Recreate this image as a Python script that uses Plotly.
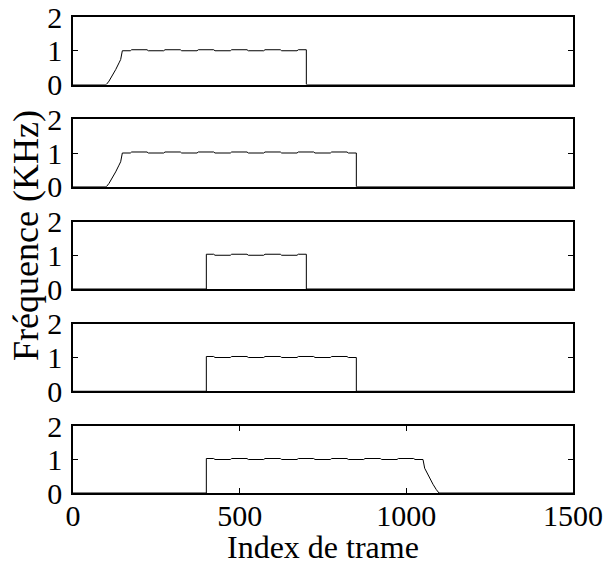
import numpy as np
import plotly.graph_objects as go

# Frame axis and track layout
x_ticks = [0, 500, 1000, 1500]
y_ticks = [0, 1, 2]

# Gliding onset / offset of the tone (frame, kHz)
onset_frames = [100, 108, 118, 128, 138, 143, 148]
onset_khz = [0.0, 0.10, 0.26, 0.44, 0.64, 0.74, 1.0]
offset_frames = [1050, 1055, 1060, 1070, 1080, 1090, 1098]
offset_khz = [1.0, 0.74, 0.64, 0.44, 0.26, 0.10, 0.0]

# Estimated pitch over the steady part (small periodic ripple around 1 kHz)
ripple_frames = [148, 172, 176, 222, 226, 272, 276, 322, 326, 372, 376, 422,
                 426, 472, 476, 522, 526, 572, 576, 622, 626, 672, 676, 722,
                 726, 772, 776, 822, 826, 872, 876, 922, 926, 972, 976, 1022,
                 1026, 1050]
ripple_khz = [1.0, 1.0, 1.03, 1.03, 1.0, 1.0, 1.03, 1.03, 1.0, 1.0, 1.03, 1.03,
              1.0, 1.0, 1.03, 1.03, 1.0, 1.0, 1.03, 1.03, 1.0, 1.0, 1.03, 1.03,
              1.0, 1.0, 1.03, 1.03, 1.0, 1.0, 1.03, 1.03, 1.0, 1.0, 1.03, 1.03,
              1.0, 1.0]

# Start / end of the tone in each track ("glide" = gradual onset or offset)
track_starts = ["glide", "glide", 400, 400, 400]
track_ends = [700, 850, 700, 850, "glide"]


def build_track(start, end):
    xs, ys = [0], [0.0]
    if start == "glide":
        xs += onset_frames
        ys += onset_khz
        s = onset_frames[-1]
    else:
        xs += [start, start]
        ys += [0.0, float(np.interp(start, ripple_frames, ripple_khz))]
        s = start
    e = offset_frames[0] if end == "glide" else end
    for f, v in zip(ripple_frames, ripple_khz):
        if s < f < e:
            xs.append(f)
            ys.append(v)
    if end == "glide":
        xs += offset_frames
        ys += offset_khz
    else:
        xs += [end, end]
        ys += [float(np.interp(end, ripple_frames, ripple_khz)), 0.0]
    xs.append(1500)
    ys.append(0.0)
    return xs, ys


W, H = 607, 565
m_l, m_r, m_t, m_b = 73, 34, 17, 72
plot_w = W - m_l - m_r
plot_h = H - m_t - m_b
panel_h = 67.5
panel_step = 102.25

fig = go.Figure()
font_family = "Liberation Serif, Times New Roman, Times, serif"
tick_font = dict(family=font_family, size=30, color="black")

n = len(track_starts)
layout = {}
for i in range(n):
    xs, ys = build_track(track_starts[i], track_ends[i])
    suffix = "" if i == 0 else str(i + 1)
    fig.add_trace(go.Scatter(
        x=xs, y=ys, mode="lines",
        line=dict(color="black", width=1),
        xaxis="x" + suffix, yaxis="y" + suffix,
        showlegend=False, hoverinfo="skip",
    ))
    top = i * panel_step
    bottom = min(top + panel_h, plot_h)
    dom = [max(0.0, 1 - bottom / plot_h), min(1.0, 1 - top / plot_h)]
    last = i == n - 1
    layout["xaxis" + suffix] = dict(
        domain=[0, 1], range=[0, 1500], anchor="y" + suffix,
        showline=True, linecolor="black", linewidth=1.5,
        mirror="ticks" if last else True,
        showgrid=False, zeroline=False, automargin=False,
        tickvals=x_ticks if last else [],
        ticks="inside" if last else "", ticklen=5, tickcolor="black", tickwidth=1,
        showticklabels=last, tickfont=tick_font, ticklabelstandoff=-5,
    )
    layout["yaxis" + suffix] = dict(
        domain=dom, range=[0, 2], anchor="x" + suffix,
        showline=True, linecolor="black", linewidth=1.5, mirror="ticks",
        showgrid=False, zeroline=False, automargin=False,
        tickvals=y_ticks, ticks="inside", ticklen=5, tickcolor="black", tickwidth=1,
        tickfont=tick_font, ticklabelstandoff=3,
    )

fig.update_layout(**layout)
fig.add_annotation(
    text="Index de trame",
    xref="paper", yref="paper", x=0.5, y=-(547 - (H - m_b)) / plot_h,
    xanchor="center", yanchor="middle", showarrow=False,
    font=dict(family=font_family, size=32, color="black"),
)
fig.add_annotation(
    text="Fréquence (KHz)", textangle=-90,
    xref="paper", yref="paper", x=(26 - m_l) / plot_w, y=1 - (236 - m_t) / plot_h,
    xanchor="center", yanchor="middle", showarrow=False,
    font=dict(family=font_family, size=36, color="black"),
)
fig.update_layout(
    width=W, height=H,
    margin=dict(l=m_l, r=m_r, t=m_t, b=m_b, autoexpand=False),
    paper_bgcolor="white", plot_bgcolor="white",
)

fig.write_html("out.html")
